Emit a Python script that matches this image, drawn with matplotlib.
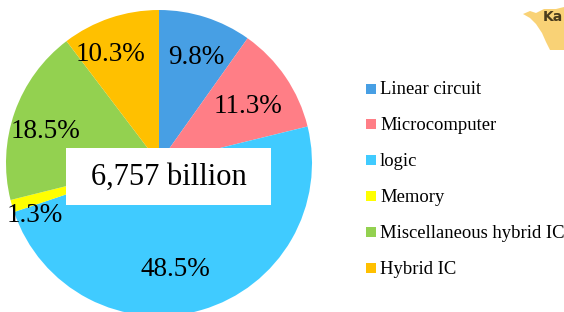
import numpy as np
import matplotlib
matplotlib.use("Agg")
import matplotlib.pyplot as plt
from matplotlib.patches import Rectangle, Polygon
from matplotlib.transforms import offset_copy

categories = ["Linear circuit", "Microcomputer", "logic", "Memory",
              "Miscellaneous hybrid IC", "Hybrid IC"]
values = [9.8, 11.3, 48.5, 1.3, 18.5, 10.3]
colors = ["#479FE4", "#FF7E86", "#40CBFF", "#FFFF00", "#93D150", "#FFC000"]
total_label = "6,757 billion"

plt.rcParams['font.family'] = ['Liberation Serif', 'DejaVu Serif']

W, H = 564, 312
fig = plt.figure(figsize=(W / 100, H / 100), dpi=100)
fig.patch.set_facecolor("white")

cx, cy, r = 159, 163, 153
ax = fig.add_axes([(cx - r) / W, (H - cy - r) / H, 2 * r / W, 2 * r / H])
wedges, _ = ax.pie(values, colors=colors, startangle=90, counterclock=False,
                   radius=1.0, wedgeprops=dict(linewidth=0))
ax.set_xlim(-1, 1)
ax.set_ylim(-1, 1)
ax.set_aspect("equal")
ax.axis("off")

# label placement (distance from centre, angular offset in degrees)
dists = [0.746, 0.698, 0.688, 0.876, 0.777, 0.792]
offsets = [-1.2, -0.7, -7.5, 6.0, 2.8, 5.2]
lbl_tr = offset_copy(ax.transData, fig=fig, x=0, y=-2, units="dots")
for w, v, d, o in zip(wedges, values, dists, offsets):
    ang = np.deg2rad((w.theta1 + w.theta2) / 2 + o)
    ax.text(d * np.cos(ang), d * np.sin(ang), f"{v}%", ha="center", va="center",
            fontsize=19.5, color="black", transform=lbl_tr)

# center box
bx0, bx1, by0, by1 = 66, 271, 148, 205
fig.patches.append(Rectangle((bx0 / W, 1 - by1 / H), (bx1 - bx0) / W, (by1 - by0) / H,
                             transform=fig.transFigure, facecolor="white",
                             edgecolor="none", zorder=5))
fig.text((bx0 + bx1) / 2 / W, 1 - (by0 + by1 + 2) / 2 / H, total_label, ha="center",
         va="center", fontsize=22, color="black", zorder=6)

# legend
ys = [89, 124, 160, 196, 232, 268]
for cat, col, y in zip(categories, colors, ys):
    fig.patches.append(Rectangle((366 / W, 1 - (y + 5) / H), 10 / W, 10 / H,
                                 transform=fig.transFigure, facecolor=col,
                                 edgecolor="none"))
    fig.text(380 / W, 1 - (y + 1) / H, cat, ha="left", va="center", fontsize=13.4,
             color="black")

# partial logo top-right
logo = [(523, 14), (530, 11), (536, 13), (544, 9), (556, 9), (564, 7), (564, 50),
        (550, 50), (546, 42), (542, 33), (536, 24), (530, 18)]
fig.patches.append(Polygon([(x / W, 1 - y / H) for x, y in logo], closed=True,
                           transform=fig.transFigure, facecolor="#F9CB5E",
                           edgecolor="none", alpha=0.85))
fig.text(543 / W, 1 - 17 / H, "Ka", ha="left", va="center", fontsize=10,
         fontweight="bold", color="#4A3B1C", family="DejaVu Sans")

fig.savefig("out.png", dpi=100, facecolor="white")
